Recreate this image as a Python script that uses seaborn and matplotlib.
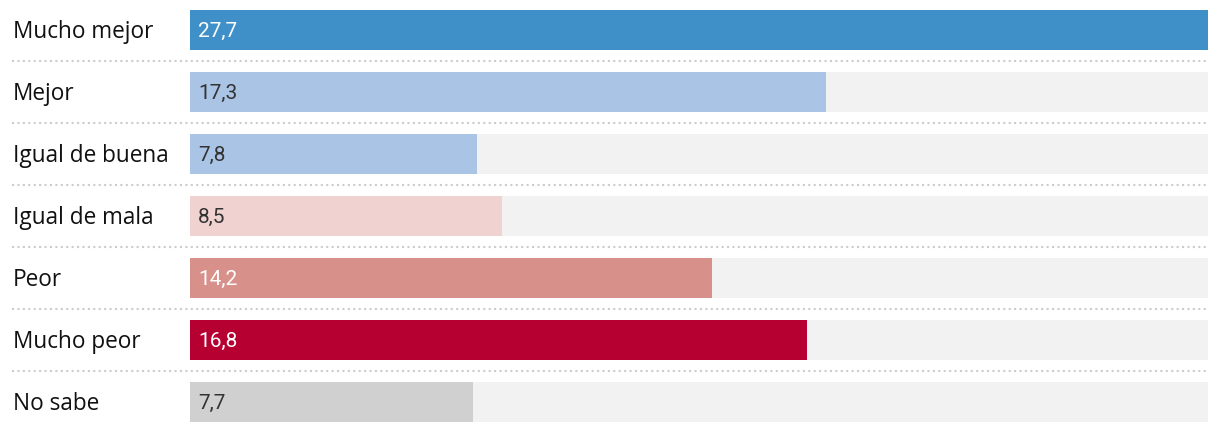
import matplotlib
matplotlib.use("Agg")
import matplotlib.pyplot as plt
import seaborn as sns
import pandas as pd

categories = ["Mucho mejor", "Mejor", "Igual de buena", "Igual de mala", "Peor", "Mucho peor", "No sabe"]
values = [27.7, 17.3, 7.8, 8.5, 14.2, 16.8, 7.7]
value_labels = ["27,7", "17,3", "7,8", "8,5", "14,2", "16,8", "7,7"]
colors = ["#3f8fc9", "#aac4e6", "#aac4e6", "#f0d3d1", "#d7918a", "#b70032", "#d0d0d0"]
text_colors = ["white", "#333333", "#333333", "#333333", "white", "white", "#333333"]

sns.set_theme(style="white")
plt.rcParams["font.family"] = ["Open Sans", "DejaVu Sans"]

df = pd.DataFrame({"cat": categories, "val": values})
bg = pd.DataFrame({"cat": categories, "val": [max(values)] * len(values)})

fig = plt.figure(figsize=(12.2, 4.32), dpi=100)
ax = fig.add_axes([190 / 1220, -1 / 432, 1018 / 1220, 434 / 432])

sns.barplot(data=bg, x="val", y="cat", color="#f2f2f2", width=0.645, ax=ax,
            saturation=1, linewidth=0)
sns.barplot(data=df, x="val", y="cat", hue="cat", palette=colors, width=0.645, ax=ax,
            saturation=1, legend=False, linewidth=0)

ax.set_xlim(0, max(values))
ax.set_ylim(6.5, -0.5)
ax.set_xlabel("")
ax.set_ylabel("")
ax.set_xticks([])
ax.set_yticks([])
for s in ax.spines.values():
    s.set_visible(False)

trans = matplotlib.transforms.blended_transform_factory(ax.transAxes, ax.transData)
for i, (c, v, lab, tc) in enumerate(zip(categories, values, value_labels, text_colors)):
    ax.text(-0.174, i + 0.03, c, transform=trans, ha="left", va="center", fontsize=16.3,
            color="#111111")
    ax.text(0.22, i + 0.02, lab, ha="left", va="center", fontsize=15, color=tc,
            fontweight="normal", family=["Roboto", "DejaVu Sans"])
    if i < len(categories) - 1:
        ax.plot([-0.175, 1.0], [i + 0.5, i + 0.5], transform=trans, clip_on=False,
                color="#cccccc", linewidth=1.5, linestyle=(0, (1, 1.6)))

fig.savefig("out.png", dpi=100)
